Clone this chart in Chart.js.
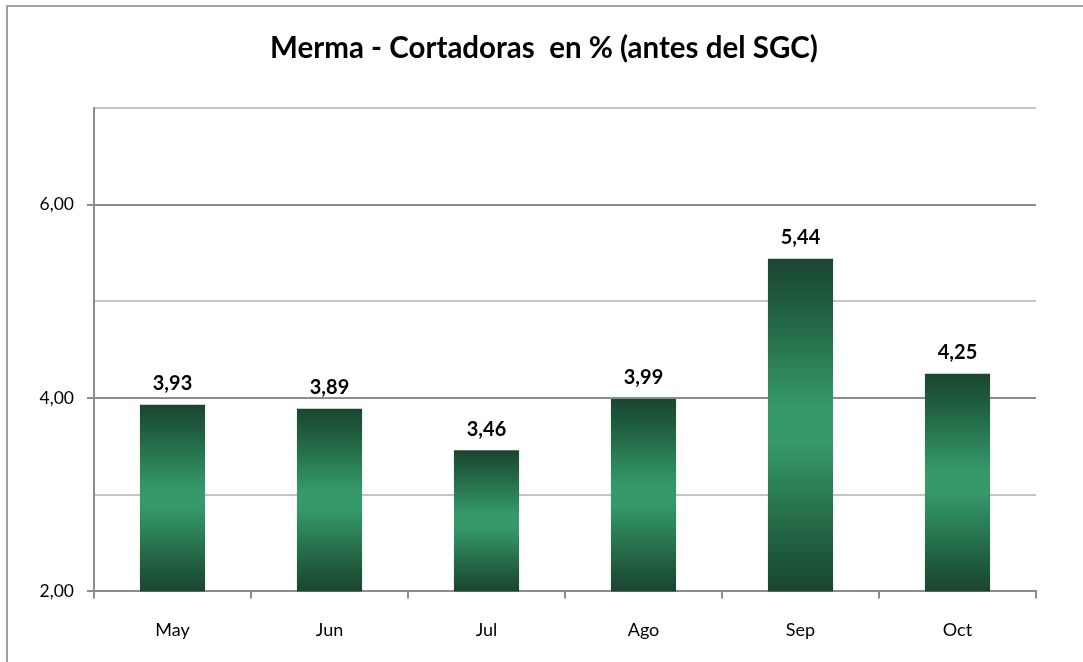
<!DOCTYPE html>
<html>
<head>
<meta charset="utf-8">
<script src="https://cdn.jsdelivr.net/npm/chart.js@4"></script>
<style>
  html, body { margin: 0; padding: 0; background: #fff; }
  #wrap { position: relative; width: 1083px; height: 662px; overflow: hidden; }
  #frame { position: absolute; left: 6px; top: 5px; right: -10px; bottom: -10px;
           border-left: 2px solid #a0a0a0; border-top: 2px solid #a0a0a0; }
  canvas { position: absolute; left: 0; top: 0; }
</style>
</head>
<body>
<div id="wrap">
  <div id="frame"></div>
  <canvas id="canvas1" width="1083" height="662"></canvas>
</div>
<script>
var meses = ["May", "Jun", "Jul", "Ago", "Sep", "Oct"];
var merma = [3.93, 3.89, 3.46, 3.99, 5.44, 4.25];
var titulo = "Merma - Cortadoras  en % (antes del SGC)";
var fuente = "Lato, 'Open Sans', sans-serif";

function coma(v) {
  return v.toFixed(2).replace(".", ",");
}

// degradado oscuro-claro-oscuro en cada barra
function degradado(c) {
  var chart = c.chart;
  var y = chart.scales.y;
  if (!y || c.raw === undefined) return "#2a7a52";
  var top = y.getPixelForValue(c.raw);
  var base = y.getPixelForValue(y.min);
  if (!isFinite(top) || !isFinite(base) || top === base) return "#2a7a52";
  var g = chart.ctx.createLinearGradient(0, top, 0, base);
  g.addColorStop(0, "#1a4530");
  g.addColorStop(0.12, "#1f5a3c");
  g.addColorStop(0.45, "#35996a");
  g.addColorStop(0.55, "#35996a");
  g.addColorStop(0.88, "#1f5a3c");
  g.addColorStop(1, "#1a4530");
  return g;
}

var textos = {
  id: "textos",
  afterDraw: function(chart) {
    var ctx = chart.ctx;
    ctx.save();
    ctx.fillStyle = "#000";
    ctx.textAlign = "center";
    ctx.textBaseline = "middle";
    ctx.font = "bold 29.5px " + fuente;
    ctx.fillText(titulo, 544, 48);
    ctx.font = "bold 20px " + fuente;
    chart.getDatasetMeta(0).data.forEach(function(bar, i) {
      ctx.fillText(coma(merma[i]), bar.x, bar.y - 21);
    });
    ctx.restore();
  }
};

new Chart(document.getElementById("canvas1"), {
  type: "bar",
  data: {
    labels: meses,
    datasets: [{
      data: merma,
      backgroundColor: degradado,
      borderWidth: 0,
      categoryPercentage: 1,
      barPercentage: 0.415
    }]
  },
  plugins: [textos],
  options: {
    responsive: false,
    animation: false,
    layout: { padding: { left: 0, right: 47, top: 108, bottom: 0 } },
    plugins: {
      legend: { display: false },
      tooltip: { enabled: false },
      title: { display: false }
    },
    scales: {
      x: {
        grid: {
          drawOnChartArea: false,
          drawTicks: true,
          tickLength: 7,
          color: "#8c8c8c",
          lineWidth: 2
        },
        border: { color: "#8c8c8c", width: 2 },
        ticks: {
          color: "#000",
          padding: 21,
          font: { family: fuente, size: 18 }
        }
      },
      y: {
        min: 2,
        max: 7,
        afterFit: function(scale) { scale.width = 94; },
        grid: {
          tickLength: 7,
          lineWidth: 2,
          color: function(c) {
            return c.tick && c.tick.value % 2 === 0 ? "#8c8c8c" : "#c4c4c4";
          },
          tickColor: function(c) {
            return c.tick && c.tick.value % 2 === 0 ? "#8c8c8c" : "rgba(0,0,0,0)";
          }
        },
        border: { color: "#8c8c8c", width: 2 },
        ticks: {
          stepSize: 1,
          color: "#000",
          padding: 13,
          font: { family: fuente, size: 17.5 },
          callback: function(v) {
            return v % 2 === 0 ? coma(v) : "";
          }
        }
      }
    }
  }
});
</script>
</body>
</html>
